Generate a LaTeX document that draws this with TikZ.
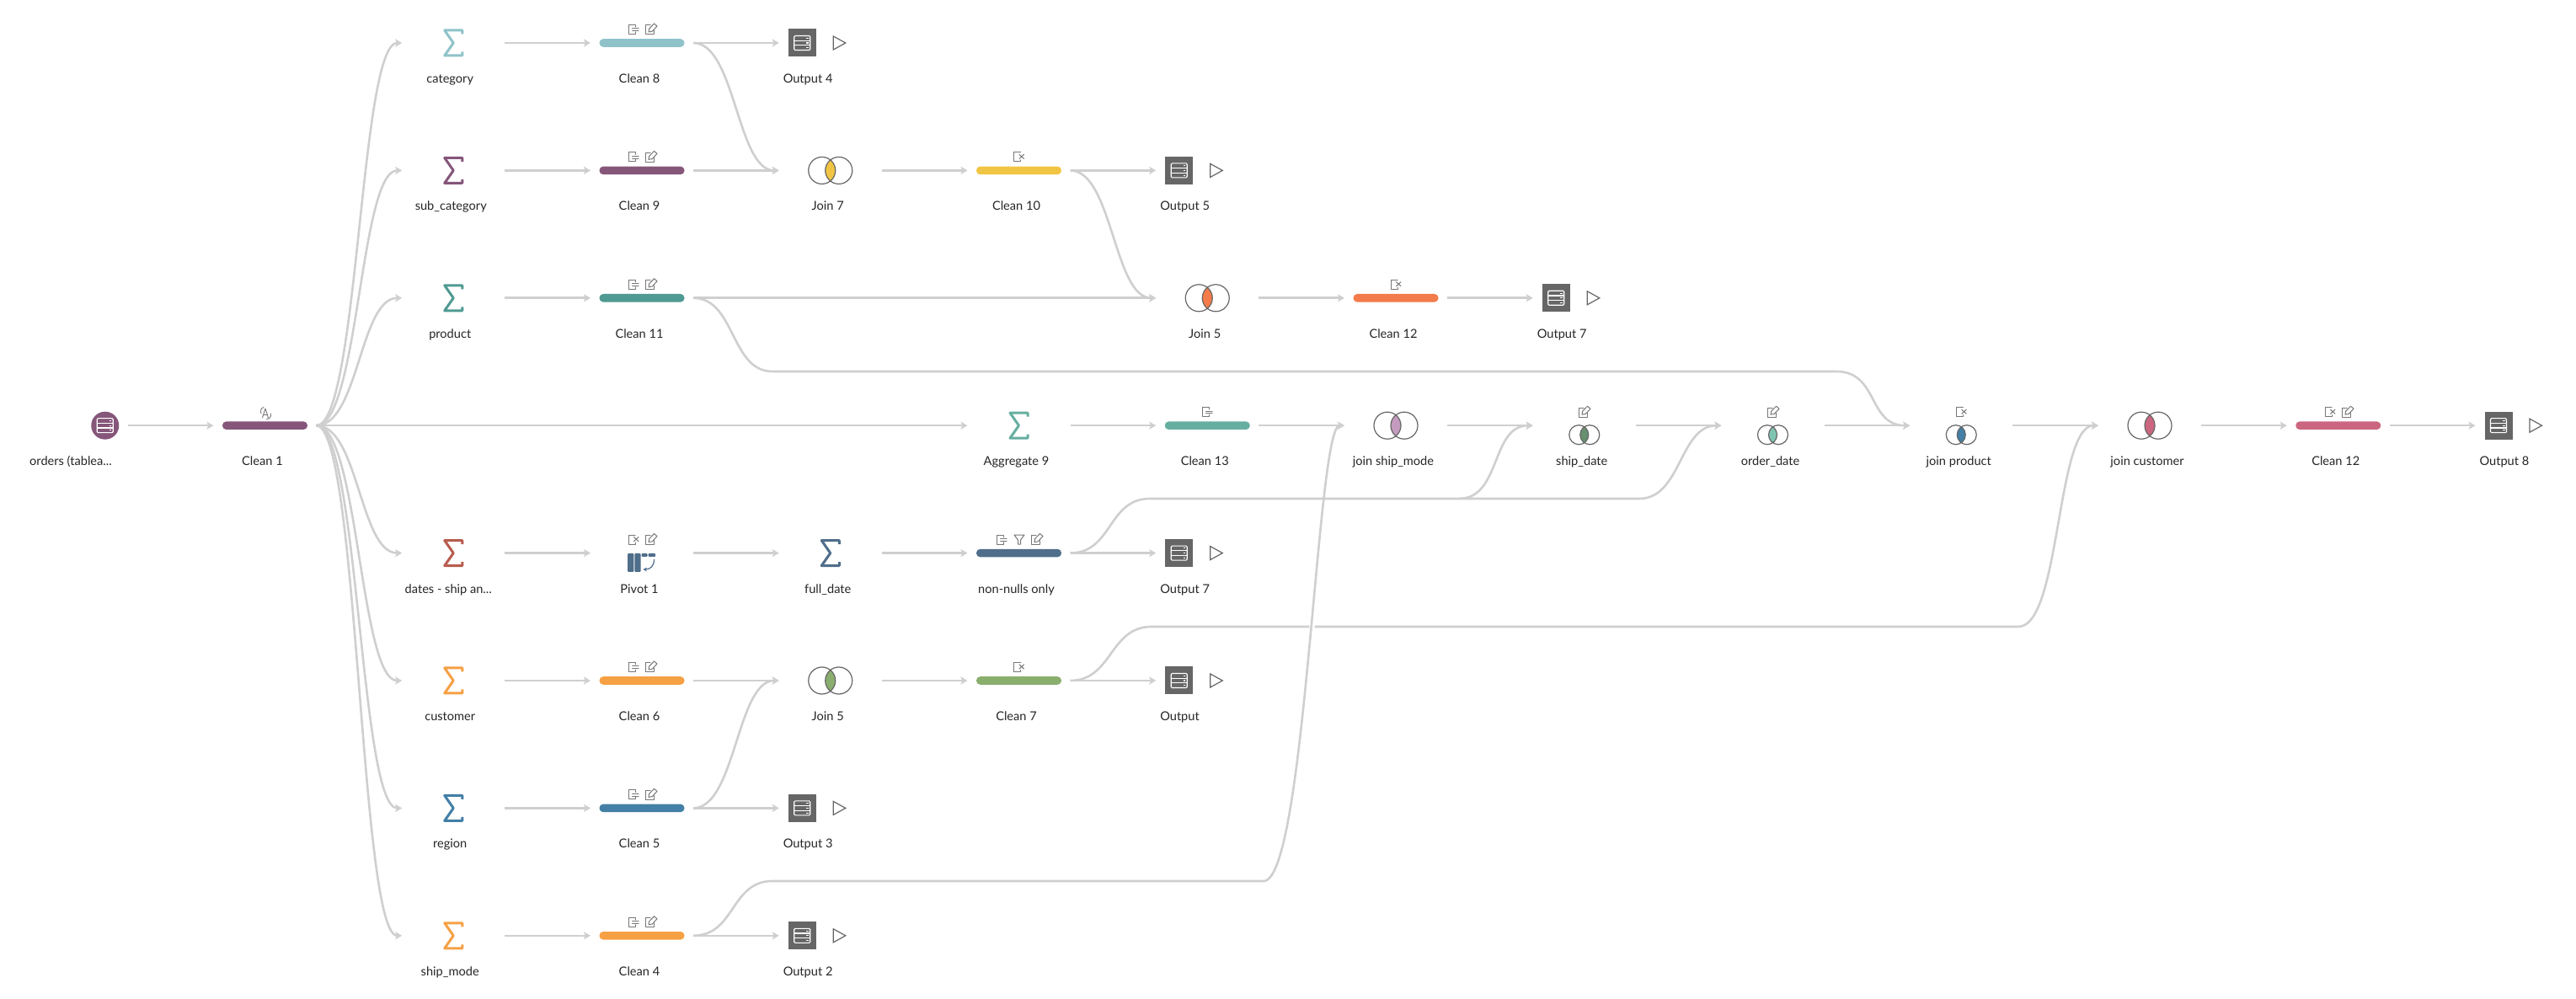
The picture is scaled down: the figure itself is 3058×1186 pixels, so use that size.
\documentclass[tikz,border=0pt]{standalone}
\usepackage{fontspec}
\setmainfont{Lato}
\usetikzlibrary{arrows.meta}
\definecolor{cPlum}{HTML}{85567A}
\definecolor{cAqua}{HTML}{8FC3C9}
\definecolor{cTeal}{HTML}{4F9A92}
\definecolor{cYellow}{HTML}{F1C544}
\definecolor{cOrangeR}{HTML}{F47B4A}
\definecolor{cMint}{HTML}{66AFA0}
\definecolor{cBrick}{HTML}{B85C4E}
\definecolor{cSlate}{HTML}{4F6E8A}
\definecolor{cOrange}{HTML}{F6A044}
\definecolor{cGreen}{HTML}{8AAE6E}
\definecolor{cBlue}{HTML}{437FA6}
\definecolor{cRose}{HTML}{CC6680}
\definecolor{cLilac}{HTML}{C49BBE}
\definecolor{cDGreen}{HTML}{669070}
\definecolor{cLMint}{HTML}{7FC4B0}
\definecolor{cLine}{HTML}{CFCFCF}
\definecolor{cIcon}{HTML}{777777}
\definecolor{cRing}{HTML}{666666}
\definecolor{cText}{HTML}{262626}
\tikzset{
  slotbox/.style={rectangle,draw=none,fill=none,inner sep=0pt,outer sep=0pt,minimum width=61pt,minimum height=2pt},
  barbox/.style={rectangle,draw=none,inner sep=0pt,outer ysep=0pt,outer xsep=5.25pt,minimum width=50.5pt,minimum height=4.8pt,rounded corners=2.3pt},
  lbl/.style={inner sep=0pt,outer sep=0pt,text=cText,text height=5.5pt,text depth=0pt,font=\fontsize{7.3}{9}\selectfont},
  flow/.style={draw=cLine,line width=1.3pt,-{Stealth[length=4pt,width=4.6pt,inset=0.9pt]}},
  scurve/.style={to path={.. controls +(50,0) and +(-50,0) .. (\tikztotarget) \tikztonodes}},
  longcurve/.style={to path={.. controls +(50,0) and +(-33,0) .. (\tikztotarget) \tikztonodes}},
  ico/.style={draw=cIcon,line width=0.5pt,line cap=round,line join=round},
  sigline/.style={line width=1.5pt,line join=round,line cap=butt},
  ring/.style={draw=cRing,line width=0.6pt},
  dbline/.style={draw=white,line width=0.55pt}
}
\newcommand{\FlowBar}[6]{% name,x,y,colour,label
  \node[barbox,fill=#4] (#1) at (#2,#3) {};
  \node[lbl] (#1-t) at (#2-3,#3+42) {#5};}
\newcommand{\FlowSig}[6]{% name,x,y,colour,label,label shift
  \node[slotbox] (#1) at (#2,#3) {};
  \draw[sigline,draw=#4,shift={(#2,#3)}] (10.5,-10.5)--(10.5,-15)--(-10.5,-15)--(0,0)--(-10.5,15)--(10.5,15)--(10.5,10.5);
  \node[lbl] (#1-t) at (#2+#6,#3+42) {#5};}
\newcommand{\DbIcon}[2]{%
  \begin{scope}[shift={(#1,#2)}]
    \draw[dbline,rounded corners=0.6pt] (-9.5,-8.5) rectangle (9.5,8.5);
    \draw[dbline] (-9.5,-2.8)--(9.5,-2.8) (-9.5,2.8)--(9.5,2.8);
    \draw[dbline] (5,-5.7)--(7.5,-5.7) (5,0)--(7.5,0) (5,5.7)--(7.5,5.7);
  \end{scope}}
\newcommand{\FlowOut}[4]{% name,x,y,label
  \node[slotbox] (#1) at (#2,#3) {};
  \fill[cRing] (#2-50,#3-16.5) rectangle (#2-17,#3+16.5);
  \DbIcon{#2-33.5}{#3}
  \draw[ring,line join=miter] (#2+3.5,#3-8) -- (#2+18,#3) -- (#2+3.5,#3+8) -- cycle;
  \node[lbl,anchor=west] (#1-t) at (#2-56,#3+42) {#4};}
\newcommand{\FlowJoin}[5]{% name,x,y,colour,label
  \node[slotbox] (#1) at (#2,#3) {};
  \begin{scope}\clip (#2-10,#3) circle (16);\fill[#4] (#2+10,#3) circle (16);\end{scope}
  \draw[ring] (#2-10,#3) circle (16) (#2+10,#3) circle (16);
  \node[lbl] (#1-t) at (#2-3,#3+42) {#5};}
\newcommand{\FlowJoinS}[5]{% name,x,y,colour,label
  \node[slotbox] (#1) at (#2,#3) {};
  \begin{scope}\clip (#2-6.5,#3+11) circle (11.5);\fill[#4] (#2+6.5,#3+11) circle (11.5);\end{scope}
  \draw[ring] (#2-6.5,#3+11) circle (11.5) (#2+6.5,#3+11) circle (11.5);
  \node[lbl] (#1-t) at (#2-3,#3+42) {#5};}
\newcommand{\IcoPen}[2]{\begin{scope}[shift={(#1,#2)}]
  \draw[ico] (-1,-5)--(-7,-5)--(-7,6)--(3,6)--(3,1);
  \draw[ico] (-3,3)--(-2.3,-1)--(3.5,-7)--(7,-4)--(1.3,2.2)--cycle;
  \end{scope}}
\newcommand{\IcoDash}[2]{\begin{scope}[shift={(#1,#2)}]
  \draw[ico] (2,-3)--(2,-5.5)--(-6,-5.5)--(-6,5.5)--(2,5.5)--(2,3);
  \draw[ico] (-1.5,-1)--(6,-1) (-1.5,1.8)--(6,1.8);
  \end{scope}}
\newcommand{\IcoCross}[2]{\begin{scope}[shift={(#1,#2)}]
  \draw[ico] (2,-5.5)--(-6,-5.5)--(-6,5.5)--(2,5.5)--(2,3.5);
  \draw[ico] (0.5,-3)--(6,2) (6,-3)--(0.5,2);
  \end{scope}}
\newcommand{\IcoFunnel}[2]{\begin{scope}[shift={(#1,#2)}]
  \draw[ico] (-6,-5.5)--(6,-5.5)--(1.5,0.5)--(1.5,5.5)--(-1.5,5.5)--(-1.5,0.5)--cycle;
  \end{scope}}
\begin{document}
\begin{tikzpicture}[x=0.5pt,y=-0.5pt]
\useasboundingbox (0,0) rectangle (3058,1186);
\fill[white] (0,0) rectangle (3058,1186);
% source
\node[slotbox] (src) at (90.75,505.2) {};
\fill[cPlum] (124.75,505.2) circle (16.5);
\DbIcon{124.75}{505.2}
\node[lbl] (src-t) at (84,547.2) {orders (tablea...};
% steps
\FlowBar{cleanA}{314.5}{505.2}{cPlum}{Clean 1}{}
\begin{scope}[shift={(315,490)}]
  \draw[ico,line width=0.45pt] (-3.5,6)--(0,-5)--(3.5,6) (-2.2,2.5)--(2.2,2.5);
  \draw[ico,line width=0.45pt] (-2,-6.5) .. controls (-5.5,-5.5) and (-6,-2) .. (-5,1);
  \draw[ico,line width=0.45pt] (6.5,1) .. controls (7,5) and (5,7.5) .. (1.5,7.5);
\end{scope}
\FlowSig{catg}{538.25}{51}{cAqua}{category}{-4}
\FlowSig{subc}{538.25}{202.4}{cPlum}{sub\_category}{-3}
\FlowSig{prod}{538.25}{353.8}{cTeal}{product}{-4}
\FlowSig{dates}{538.25}{656.6}{cBrick}{dates - ship an...}{-6}
\FlowSig{cust}{538.25}{808}{cOrange}{customer}{-4}
\FlowSig{regn}{538.25}{959.4}{cBlue}{region}{-4}
\FlowSig{mode}{538.25}{1110.8}{cOrange}{ship\_mode}{-4}
\FlowSig{aggr}{1209.5}{505.2}{cMint}{Aggregate 9}{-3}
\FlowSig{fdate}{985.75}{656.6}{cSlate}{full\_date}{-3}

\FlowBar{cleanH}{762}{51}{cAqua}{Clean 8}{}
\FlowBar{cleanI}{762}{202.4}{cPlum}{Clean 9}{}
\FlowBar{cleanK}{762}{353.8}{cTeal}{Clean 11}{}
\FlowBar{cleanF}{762}{808}{cOrange}{Clean 6}{}
\FlowBar{cleanE}{762}{959.4}{cBlue}{Clean 5}{}
\FlowBar{cleanD}{762}{1110.8}{cOrange}{Clean 4}{}
\foreach \ry in {51,202.4,353.8,808,959.4,1110.8}{
  \IcoDash{752}{\ry-16}\IcoPen{773}{\ry-16}}
\FlowBar{cleanJ}{1209.5}{202.4}{cYellow}{Clean 10}{}
\IcoCross{1209.5}{186.4}
\FlowBar{nonn}{1209.5}{656.6}{cSlate}{non-nulls only}{}
\IcoDash{1189}{640.6}\IcoFunnel{1210}{640.6}\IcoPen{1231}{640.6}
\FlowBar{cleanG}{1209.5}{808}{cGreen}{Clean 7}{}
\IcoCross{1209.5}{792}
\FlowBar{cleanL}{1657}{353.8}{cOrangeR}{Clean 12}{}
\IcoCross{1657}{337.8}
\FlowBar{cleanM}{1433.25}{505.2}{cMint}{Clean 13}{}
\IcoDash{1433}{489.2}
\FlowBar{cleanN}{2775.75}{505.2}{cRose}{Clean 12}{}
\IcoCross{2766}{489.2}\IcoPen{2787}{489.2}
% pivot
\node[slotbox] (pivot) at (762,656.6) {};
\IcoCross{752}{640.6}\IcoPen{773}{640.6}
\fill[cSlate,rounded corners=0.5pt] (745,657) rectangle (752.3,679);
\fill[cSlate,rounded corners=0.5pt] (753.3,657) rectangle (760.5,679);
\fill[cSlate,rounded corners=0.5pt] (761.5,657) rectangle (768.5,661);
\fill[cSlate,rounded corners=0.5pt] (769.5,657) rectangle (778,661);
\draw[cSlate,line width=0.6pt,-{Stealth[length=2.2pt,width=2.4pt]}] (776.5,664) .. controls (776.5,672) and (772,676) .. (763.5,676);
\node[lbl] (pivot-t) at (759,698.6) {Pivot 1};
% joins
\FlowJoin{joinG}{985.75}{202.4}{cYellow}{Join 7}
\FlowJoin{joinE}{1433.25}{353.8}{cOrangeR}{Join 5}
\FlowJoin{joinF}{985.75}{808}{cGreen}{Join 5}
\FlowJoin{jmode}{1657}{505.2}{cLilac}{join ship\_mode}
\FlowJoin{jcust}{2552}{505.2}{cRose}{join customer}
\FlowJoinS{jship}{1880.75}{505.2}{cDGreen}{ship\_date}
\FlowJoinS{jordr}{2104.5}{505.2}{cLMint}{order\_date}
\FlowJoinS{jprod}{2328.25}{505.2}{cBlue}{join product}
\IcoPen{1881}{489.2}\IcoPen{2105}{489.2}\IcoCross{2328.25}{489.2}
% outputs
\FlowOut{outD}{985.75}{51}{Output 4}
\FlowOut{outE}{1433.25}{202.4}{Output 5}
\FlowOut{outG}{1880.75}{353.8}{Output 7}
\FlowOut{outH}{1433.25}{656.6}{Output 7}
\FlowOut{outA}{1433.25}{808}{Output}
\FlowOut{outC}{985.75}{959.4}{Output 3}
\FlowOut{outB}{985.75}{1110.8}{Output 2}
\FlowOut{outI}{2999.5}{505.2}{Output 8}
% bend points
\coordinate (b1a) at (1367,744);
\coordinate (b1b) at (2396,744);
\coordinate (b2a) at (1365,592);
\coordinate (b2b) at (1946,592);
\coordinate (b2c) at (1732,592);
\coordinate (b3a) at (917,441);
\coordinate (b3b) at (2180,441);
\coordinate (b4a) at (917,1046);
\coordinate (b4b) at (1500,1046);
% connectors
\draw[flow] (src.east) -- (cleanA.west);
\foreach \t in {catg,subc,prod,dates,cust,regn,mode}{
  \draw[flow] (cleanA.east) to[scurve] (\t.west);}
\draw[flow] (cleanA.east) -- (aggr.west);
\draw[flow] (catg.east) -- (cleanH.west);
\draw[flow] (subc.east) -- (cleanI.west);
\draw[flow] (prod.east) -- (cleanK.west);
\draw[flow] (dates.east) -- (pivot.west);
\draw[flow] (cust.east) -- (cleanF.west);
\draw[flow] (regn.east) -- (cleanE.west);
\draw[flow] (mode.east) -- (cleanD.west);
\draw[flow] (pivot.east) -- (fdate.west);
\draw[flow] (fdate.east) -- (nonn.west);
\draw[flow] (cleanH.east) -- (outD.west);
\draw[flow] (cleanH.east) to[scurve] (joinG.west);
\draw[flow] (cleanI.east) -- (joinG.west);
\draw[flow] (joinG.east) -- (cleanJ.west);
\draw[flow] (cleanJ.east) -- (outE.west);
\draw[flow] (cleanJ.east) to[scurve] (joinE.west);
\draw[flow] (cleanK.east) -- (joinE.west);
\draw[flow] (joinE.east) -- (cleanL.west);
\draw[flow] (cleanL.east) -- (outG.west);
\draw[flow] (cleanK.east) to[scurve] (b3a) -- (b3b) to[scurve] (jprod.west);
\draw[flow] (aggr.east) -- (cleanM.west);
\draw[flow] (cleanG.east) to[scurve] (b1a) -- (b1b) to[scurve] (jcust.west);
\draw[draw=white,line width=3.2pt] (b4b) to[longcurve] (jmode.west);
\draw[flow] (cleanD.east) to[scurve] (b4a) -- (b4b) to[longcurve] (jmode.west);
\draw[flow] (cleanM.east) -- (jmode.west);
\draw[flow] (jmode.east) -- (jship.west);
\draw[flow] (jship.east) -- (jordr.west);
\draw[flow] (jordr.east) -- (jprod.west);
\draw[flow] (jprod.east) -- (jcust.west);
\draw[flow] (jcust.east) -- (cleanN.west);
\draw[flow] (cleanN.east) -- (outI.west);
\draw[flow] (nonn.east) to[scurve] (b2a) -- (b2b) to[scurve] (jordr.west);
\draw[flow] (b2c) to[scurve] (jship.west);
\draw[flow] (nonn.east) -- (outH.west);
\draw[flow] (cleanF.east) -- (joinF.west);
\draw[flow] (cleanE.east) to[scurve] (joinF.west);
\draw[flow] (cleanE.east) -- (outC.west);
\draw[flow] (joinF.east) -- (cleanG.west);
\draw[flow] (cleanG.east) -- (outA.west);
\draw[flow] (cleanD.east) -- (outB.west);
\end{tikzpicture}
\end{document}
